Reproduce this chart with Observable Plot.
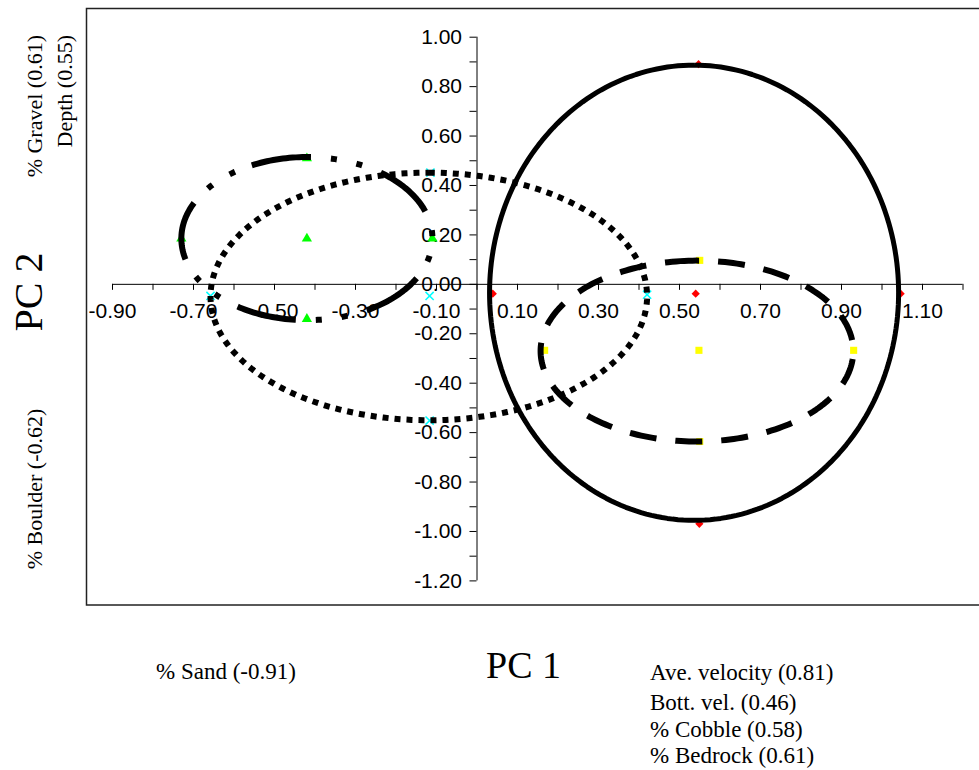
<!DOCTYPE html>
<html>
<head>
<meta charset="utf-8">
<script src="https://cdn.jsdelivr.net/npm/d3@7"></script>
<script src="https://cdn.jsdelivr.net/npm/@observablehq/plot@0.6"></script>
<style>
  body { margin: 0; background: #fff; }
  #chart { position: relative; width: 979px; height: 770px; overflow: hidden; }
</style>
</head>
<body>
<div id="chart"></div>
<script>
// ---- axis ticks / labels ----
const xTicks = [-0.9, -0.8, -0.7, -0.6, -0.5, -0.4, -0.3, -0.2, -0.1, 0, 0.1, 0.2, 0.3, 0.4, 0.5, 0.6, 0.7, 0.8, 0.9, 1.0, 1.1, 1.2];
const xLabels = [-0.9, -0.7, -0.5, -0.3, -0.1, 0.1, 0.3, 0.5, 0.7, 0.9, 1.1];
const yTicks = [-1.2, -1.1, -1.0, -0.9, -0.8, -0.7, -0.6, -0.5, -0.4, -0.3, -0.2, -0.1, 0, 0.1, 0.2, 0.3, 0.4, 0.5, 0.6, 0.7, 0.8, 0.9, 1.0];
const yLabels = [-1.2, -1.0, -0.8, -0.6, -0.4, -0.2, 0, 0.2, 0.4, 0.6, 0.8, 1.0];

// ---- point groups (PC1, PC2) ----
const greenX  = [-0.42, -0.73, -0.42, -0.11, -0.42];
const greenY  = [0.51, 0.185, 0.185, 0.185, -0.14];
const cyanX   = [-0.115, -0.117, -0.658, 0.42, -0.117];
const cyanY   = [0.452, -0.047, -0.047, -0.042, -0.551];
const yellowX = [0.55, 0.167, 0.548, 0.93, 0.55];
const yellowY = [0.097, -0.267, -0.267, -0.267, -0.636];
const redX    = [0.547, 0.039, 0.54, 1.046, 0.549];
const redY    = [0.891, -0.038, -0.038, -0.038, -0.969];

// ---- ellipses around groups: centre and radii (PC units) ----
const ellipseNames = ["green", "cyan", "yellow", "red"];
const ellipseCx = [-0.42, -0.119, 0.543, 0.536];
const ellipseCy = [0.185, -0.049, -0.27, -0.034];
const ellipseRx = [0.31, 0.539, 0.386, 0.505];
const ellipseRy = [0.33, 0.501, 0.366, 0.921];
const ellipseStart = [2.025, 1.5708, 1.73, 1.5708];

// ---- text ----
const xTitle = "PC 1";
const yTitle = "PC 2";
const xLeftNote = ["% Sand (-0.91)"];
const xRightNotes = ["Ave. velocity (0.81)", "Bott. vel. (0.46)", "% Cobble (0.58)", "% Bedrock (0.61)"];
const yTopNotes = ["% Gravel (0.61)", "Depth (0.55)"];
const yBottomNote = ["% Boulder (-0.62)"];

const toPts = (xs, ys) => xs.map((x, i) => ({x, y: ys[i]}));
const green = toPts(greenX, greenY);
const cyan = toPts(cyanX, cyanY);
const yellow = toPts(yellowX, yellowY);
const red = toPts(redX, redY);

function outline(k) {
  const N = 240, pts = [];
  for (let i = 0; i <= N; i++) {
    const t = ellipseStart[k] - 2 * Math.PI * i / N;
    pts.push({x: ellipseCx[k] + ellipseRx[k] * Math.cos(t), y: ellipseCy[k] + ellipseRy[k] * Math.sin(t)});
  }
  return pts;
}

const sans = "'Liberation Sans', Arial, sans-serif";
const serif = "'Liberation Serif', 'Times New Roman', serif";
const fmt = d => d.toFixed(2);

const lineStyle = {stroke: "black", strokeLinecap: "butt", strokeLinejoin: "round"};

const plot = Plot.plot({
  width: 979,
  height: 770,
  marginLeft: 112,
  marginRight: 16.5,
  marginTop: 36.7,
  marginBottom: 189.6,
  x: {domain: [-0.9, 1.2], axis: null},
  y: {domain: [-1.2, 1.0], axis: null},
  style: {background: "white", overflow: "hidden"},
  marks: [
    Plot.ruleY([0], {stroke: "black", strokeWidth: 1}),
    Plot.ruleX([0], {stroke: "black", strokeWidth: 1}),
    Plot.ruleX(xTicks, {x: d => d, y1: 0, y2: 0, insetBottom: -6, stroke: "black", strokeWidth: 1}),
    Plot.ruleY(yTicks, {y: d => d, x1: 0, x2: 0, insetLeft: -7, stroke: "black", strokeWidth: 1}),
    Plot.text(xLabels, {x: d => d, y: 0, text: fmt, dy: 27, fontSize: 21, fontFamily: sans, fill: "black"}),
    Plot.text(yLabels, {x: 0, y: d => d, text: fmt, dx: -15, textAnchor: "end", fontSize: 21, fontFamily: sans, fill: "black"}),
    Plot.dot(green, {x: "x", y: "y", symbol: "triangle", fill: "#00FF00", r: 3.8}),
    Plot.dot(cyan, {x: "x", y: "y", symbol: "times", stroke: "#00FFFF", strokeWidth: 1.5, r: 3.8}),
    Plot.dot(yellow, {x: "x", y: "y", symbol: "square", fill: "#FFFF00", r: 4}),
    Plot.dot(red, {x: "x", y: "y", symbol: "diamond2", fill: "#FF0000", r: 3.7}),
    Plot.line(outline(0), {x: "x", y: "y", ...lineStyle, strokeWidth: 6, strokeDasharray: "60,20,6,20,6,20"}),
    Plot.line(outline(1), {x: "x", y: "y", ...lineStyle, strokeWidth: 6, strokeDasharray: "6,6"}),
    Plot.line(outline(2), {x: "x", y: "y", ...lineStyle, strokeWidth: 6, strokeDasharray: "27,19"}),
    Plot.line(outline(3), {x: "x", y: "y", ...lineStyle, strokeWidth: 5})
  ]
});

const svg = d3.select(plot);
svg.append("rect")
  .attr("x", 86.5).attr("y", 8.5).attr("width", 900).attr("height", 596.5)
  .attr("fill", "none").attr("stroke", "#222").attr("stroke-width", 1.5);

function addText(str, x, y, size, anchor, rotate) {
  svg.append("text")
    .attr("transform", `translate(${x},${y})` + (rotate ? " rotate(-90)" : ""))
    .attr("text-anchor", anchor)
    .attr("font-family", serif)
    .attr("font-size", size)
    .attr("fill", "black")
    .text(str);
}
addText(xLeftNote[0], 156, 679, 23, "start", false);
addText(xTitle, 486, 678, 38, "start", false);
const rightBase = [680, 710, 737, 763];
xRightNotes.forEach((s, i) => addText(s, 650, rightBase[i], 23, "start", false));
addText(yTopNotes[0], 42, 35, 22, "end", true);
addText(yTopNotes[1], 72, 35, 22, "end", true);
addText(yTitle, 42, 292, 40, "middle", true);
addText(yBottomNote[0], 42, 489, 22, "middle", true);

document.getElementById("chart").append(plot);
</script>
</body>
</html>
